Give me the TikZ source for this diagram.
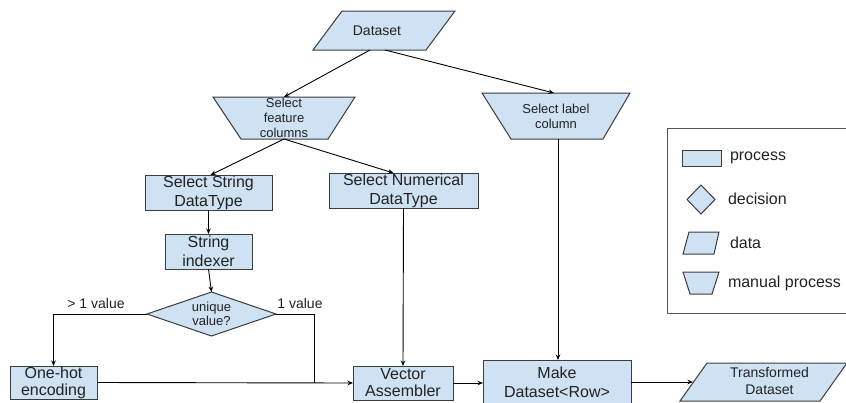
\documentclass[tikz,border=0pt]{standalone}
\usepackage{fontspec}
\setmainfont{Liberation Sans}
\usetikzlibrary{arrows.meta,calc,backgrounds}
\definecolor{boxfill}{HTML}{CFE2F3}
\definecolor{boxline}{HTML}{3C3C3C}
\definecolor{legendline}{HTML}{555555}
\definecolor{ink}{HTML}{222222}

\tikzset{
  bb/.style={inner sep=0pt, outer sep=0pt, align=center, text=ink},
  shp/.style={fill=boxfill, draw=boxline, line width=1pt, line join=miter},
  procbox/.style={bb, shp, rectangle},
  conn/.style={draw=black, line width=0.9pt},
  arr/.style={conn, -{Stealth[length=5.5pt,width=4.5pt]}},
  f13/.style={font=\fontsize{13}{15}\selectfont},
  f13t/.style={font=\fontsize{13}{14}\selectfont},
  f14/.style={font=\fontsize{14}{17}\selectfont},
  f16/.style={font=\fontsize{16}{19}\selectfont},
  f16t/.style={font=\fontsize{16}{17}\selectfont},
}

\begin{document}
\begin{tikzpicture}[x=1pt,y=-1pt]
\useasboundingbox (0,0) rectangle (846,402);

% flow nodes
\node[bb, minimum width=142, minimum height=39] (ds) at (384,30.5) {};
\node[bb, f14] (dst) at ($(ds.center)+(-7,0)$) {Dataset};
\node[bb, f13, minimum width=142, minimum height=42] (fc) at (284,118) {Select\\feature\\columns};
\node[bb, f13, minimum width=148, minimum height=46] (lc) at (556,116) {Select label\\column};
\node[procbox, f16, minimum width=127, minimum height=35] (ss) at (208.5,192.5) {Select String\\DataType};
\node[procbox, f16, minimum width=149, minimum height=35] (sn) at (403.5,190.5) {Select Numerical\\DataType};
\node[procbox, f16, minimum width=87, minimum height=35] (si) at (208.5,251.5) {String\\indexer};
\node[bb, f13t, minimum width=129, minimum height=44] (dm) at (211.5,314) {unique\\value?};
\node[procbox, f16t, minimum width=87, minimum height=33] (oh) at (53.5,382.5) {One-hot\\encoding};
\node[procbox, f16t, minimum width=100, minimum height=34] (va) at (403,383) {Vector\\Assembler};
\node[procbox, f16, minimum width=148, minimum height=44] (md) at (557,382) {Make\\Dataset<Row>};
\node[bb, minimum width=167, minimum height=38] (td) at (763.5,382) {};
\node[bb, f14] (tdt) at ($(td.center)+(6,-1)$) {Transformed\\Dataset};

% outlines of the non-rectangular shapes
\begin{scope}[on background layer]
  \path[shp] ($(ds.north west)+(29,0)$) -- (ds.north east) -- ($(ds.south east)+(-29,0)$) -- (ds.south west) -- cycle;
  \path[shp] (fc.north west) -- (fc.north east) -- ($(fc.south east)+(-27,0)$) -- ($(fc.south west)+(28,0)$) -- cycle;
  \path[shp] (lc.north west) -- (lc.north east) -- ($(lc.south east)+(-27,0)$) -- ($(lc.south west)+(29,0)$) -- cycle;
  \path[shp] (dm.north) -- (dm.east) -- (dm.south) -- (dm.west) -- cycle;
  \path[shp] ($(td.north west)+(27,0)$) -- (td.north east) -- ($(td.south east)+(-27,0)$) -- (td.south west) -- cycle;
\end{scope}

% branch labels
\node[bb, f14] (gt) at (96,303) {> 1 value};
\node[bb, f14] (eq) at (300,303) {1 value};

% connector end points
\coordinate (join) at (314,382.5);
\coordinate (lcb) at ($(lc.south)+(2,0)$);
\coordinate (mdt) at (lcb |- md.north);
\coordinate (tdl) at ($(td.west)+(13,0)$);

% connectors
\draw[arr] ($(ds.south)+(-14,0)$) -- (fc.north);
\draw[arr] ($(ds.south)+(1,0)$) -- ($(lc.north)+(-2,0)$);
\draw[arr] (fc.south) -- ($(ss.north)+(2,0)$);
\draw[arr] (fc.south) -- ($(sn.north)+(-10,0)$);
\draw[arr] (ss.south) -- (si.north);
\draw[arr] (si.south) -- (dm.north);
\draw[arr] (dm.west) -| (oh.north);
\draw[conn] (dm.east) -| (join);
\draw[arr] (oh.east) -- (va.west);
\draw[arr] (sn.south) -- (va.north);
\draw[arr] (lcb) -- (mdt);
\draw[arr] (va.east) -- (va.east -| md.west);
\draw[arr] (md.east) -- (tdl);

% legend
\draw[draw=legendline, line width=1pt] (667,128) rectangle (880,313);
\path[shp] (682,150) rectangle (721,166);
\path[shp] (701,185) -- (715,199.5) -- (701,214) -- (687,199.5) -- cycle;
\path[shp] (689,232) -- (719,232) -- (714,254) -- (683,254) -- cycle;
\path[shp] (683,272) -- (719,272) -- (712,294) -- (690,294) -- cycle;
\node[bb, f16, anchor=west] (lgp) at (730,158) {process};
\node[bb, f16, anchor=west] (lgd) at (728,199) {decision};
\node[bb, f16, anchor=west] (lga) at (730,243) {data};
\node[bb, f16, anchor=west] (lgm) at (728,283) {manual process};
\end{tikzpicture}
\end{document}
